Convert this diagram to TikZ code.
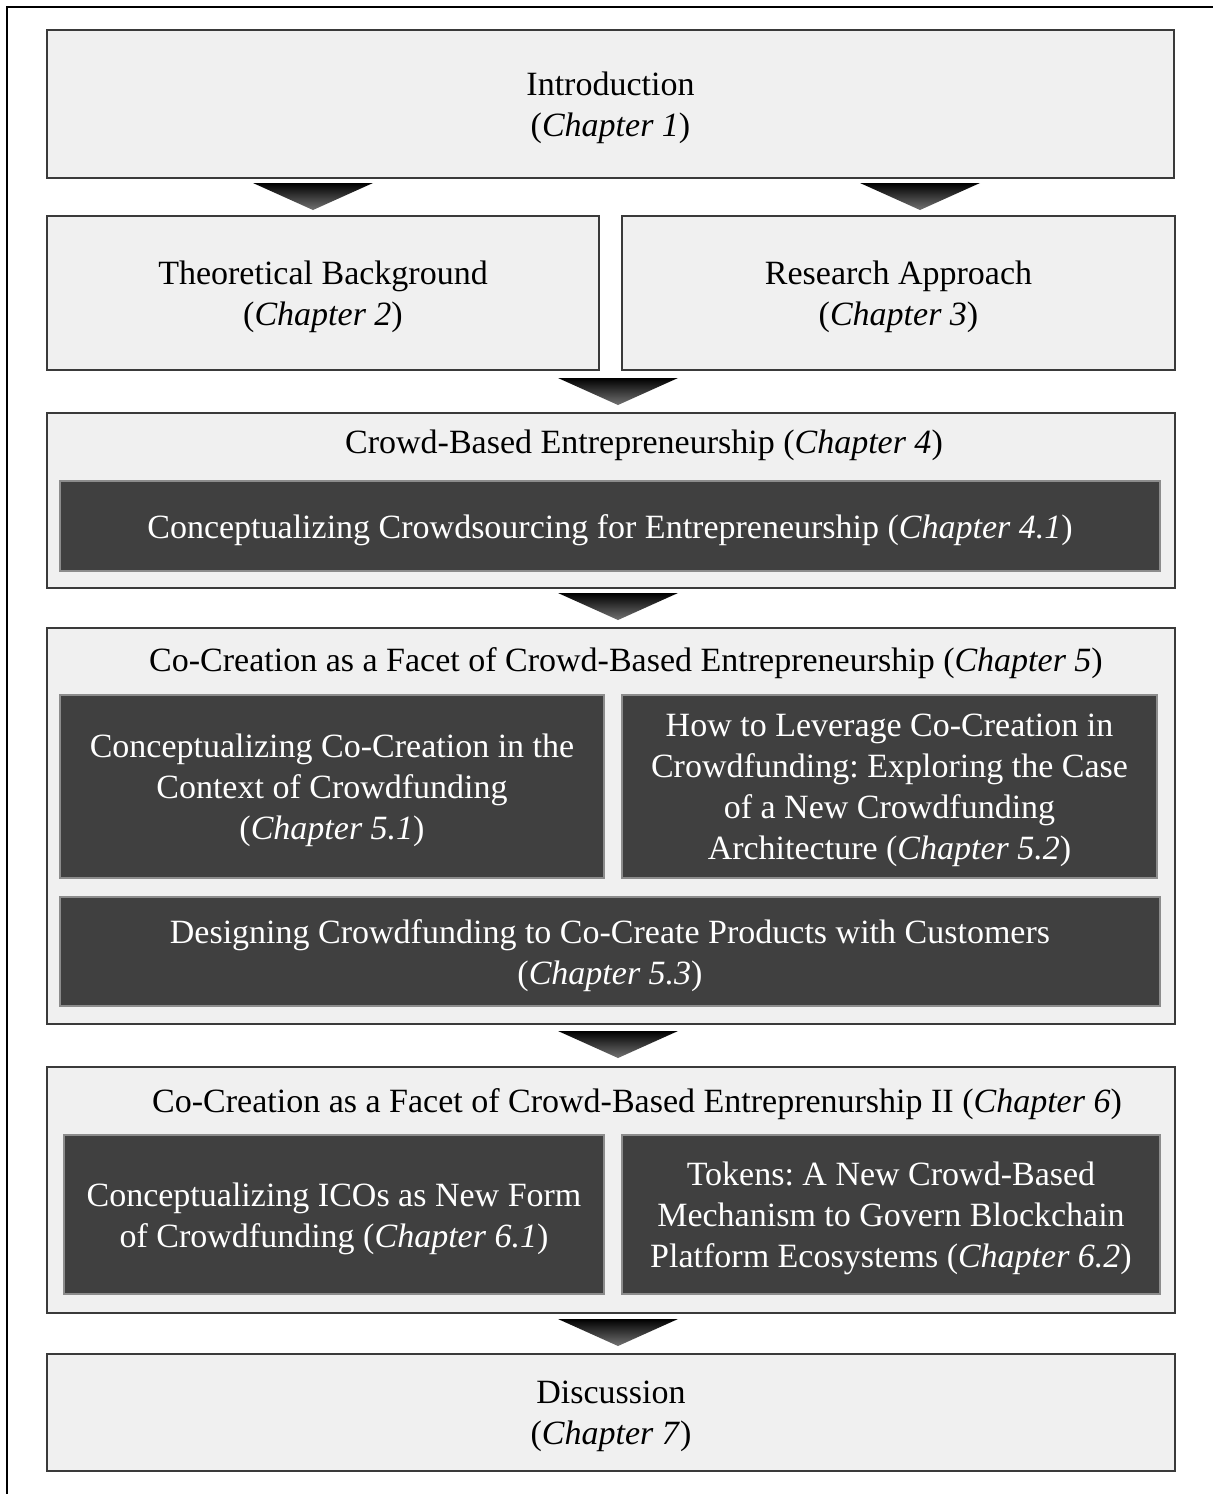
\documentclass[tikz,border=0pt]{standalone}
\usepackage{fontspec}
\setmainfont{Liberation Serif}
\frenchspacing
\definecolor{lightfill}{HTML}{F0F0F0}
\definecolor{darkfill}{HTML}{404040}
\definecolor{lightborder}{HTML}{3A3A3A}
\definecolor{darkborder}{HTML}{8C8C8C}
\tikzset{
  txt/.style={font=\fontsize{34}{41}\selectfont, align=center, inner sep=0pt},
  lightbox/.style={draw=lightborder, fill=lightfill, line width=1.4pt, inner sep=0pt},
  darkbox/.style={draw=darkborder, fill=darkfill, line width=1.4pt, inner sep=0pt},
  lighttxt/.style={txt, text=black},
  darktxt/.style={txt, text=white},
  chevron/.pic={\shade[top color=black, middle color=black, bottom color=black!55] (-60,0) -- (60,0) -- (0,27) -- cycle;}
}
\begin{document}
\begin{tikzpicture}[x=1pt,y=-1pt]
\useasboundingbox (0,0) rectangle (1213,1494);
\fill[white] (0,0) rectangle (1213,1494);
\draw[line width=2pt, black] (7,1494) -- (7,7) -- (1213,7);

\node[lightbox, minimum width=1127pt, minimum height=148pt] (intro) at (610.5,104) {};
\node[lighttxt] (introtxt) at ([yshift=-4pt]intro.center) {Introduction\\(\textit{Chapter 1})};
\node[lightbox, minimum width=552pt, minimum height=154pt] (theo) at (323,293) {};
\node[lighttxt] (theotxt) at ([yshift=-4pt]theo.center) {Theoretical Background\\(\textit{Chapter 2})};
\node[lightbox, minimum width=553pt, minimum height=154pt] (research) at (898.5,293) {};
\node[lighttxt] (researchtxt) at ([yshift=-4pt]research.center) {Research Approach\\(\textit{Chapter 3})};

\node[lightbox, minimum width=1128pt, minimum height=175pt] (ch4) at (611,500.5) {};
\node[lighttxt] (ch4title) at (644,445) {Crowd-Based Entrepreneurship (\textit{Chapter 4})};
\node[darkbox, minimum width=1100pt, minimum height=90pt] (c41) at (610,526) {};
\node[darktxt] (c41txt) at ([yshift=-4pt]c41.center) {Conceptualizing Crowdsourcing for Entrepreneurship (\textit{Chapter 4.1})};

\node[lightbox, minimum width=1128pt, minimum height=396pt] (ch5) at (611,826) {};
\node[lighttxt] (ch5title) at (626,663) {Co-Creation as a Facet of Crowd-Based Entrepreneurship (\textit{Chapter 5})};
\node[darkbox, minimum width=544pt, minimum height=183pt] (c51) at (332,786.5) {};
\node[darktxt] (c51txt) at ([yshift=-4pt]c51.center) {Conceptualizing Co-Creation in the\\Context of Crowdfunding\\(\textit{Chapter 5.1})};
\node[darkbox, minimum width=535pt, minimum height=183pt] (c52) at (889.5,786.5) {};
\node[darktxt] (c52txt) at ([yshift=-4pt]c52.center) {How to Leverage Co-Creation in\\Crowdfunding: Exploring the Case\\of a New Crowdfunding\\Architecture (\textit{Chapter 5.2})};
\node[darkbox, minimum width=1100pt, minimum height=109pt] (c53) at (610,951.5) {};
\node[darktxt] (c53txt) at ([yshift=-4pt]c53.center) {Designing Crowdfunding to Co-Create Products with Customers\\(\textit{Chapter 5.3})};

\node[lightbox, minimum width=1128pt, minimum height=246pt] (ch6) at (611,1190) {};
\node[lighttxt] (ch6title) at (637,1104) {Co-Creation as a Facet of Crowd-Based Entreprenurship II (\textit{Chapter 6})};
\node[darkbox, minimum width=540pt, minimum height=159pt] (c61) at (334,1214.5) {};
\node[darktxt] (c61txt) at ([yshift=-4pt]c61.center) {Conceptualizing ICOs as New Form\\of Crowdfunding (\textit{Chapter 6.1})};
\node[darkbox, minimum width=538pt, minimum height=159pt] (c62) at (891,1214.5) {};
\node[darktxt] (c62txt) at ([yshift=-4pt]c62.center) {Tokens: A New Crowd-Based\\Mechanism to Govern Blockchain\\Platform Ecosystems (\textit{Chapter 6.2})};

\node[lightbox, minimum width=1128pt, minimum height=117pt] (disc) at (611,1412.5) {};
\node[lighttxt] (disctxt) at ([yshift=-4pt]disc.center) {Discussion\\(\textit{Chapter 7})};

\pic at (313,183) {chevron};
\pic at (920,183) {chevron};
\pic at (618,378) {chevron};
\pic at (618,593) {chevron};
\pic at (618,1031) {chevron};
\pic at (618,1319) {chevron};
\end{tikzpicture}
\end{document}
